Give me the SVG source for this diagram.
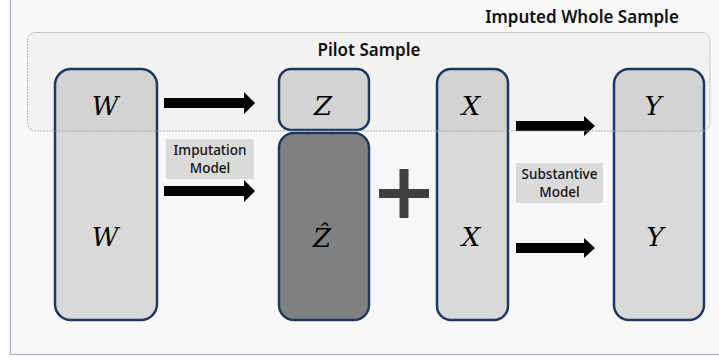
<svg xmlns="http://www.w3.org/2000/svg" width="719" height="360" viewBox="0 0 719 360">
<defs>
<style>
.node{fill:#d9d9d9;stroke:#1f3864;stroke-width:2.5}
.dark{fill:#808080}
.math{font-family:"DejaVu Serif","Liberation Serif",serif;font-style:italic;font-size:26px;fill:#000;text-anchor:middle}
.title{font-family:"Noto Sans","Liberation Sans",sans-serif;font-weight:600;font-size:17px;fill:#111;text-anchor:middle}
.lbl{font-family:"Noto Sans","Liberation Sans",sans-serif;font-weight:500;font-size:13.5px;fill:#111;text-anchor:middle}
.lblbox{fill:#dadada}
.arrow{fill:#000}
</style>
</defs>
<rect width="719" height="360" fill="#ffffff"/>
<rect x="10.5" y="-10" width="720" height="364.5" fill="#f8f8f8" stroke="#a9b0bd" stroke-width="1.2"/>
<text class="title" x="582" y="23">Imputed Whole Sample</text>

<g id="node-W">
<rect class="node" x="55" y="69" width="102" height="251" rx="16"/>
<text class="math" x="105" y="115">W</text>
<text class="math" x="105" y="246">W</text>
</g>
<g id="node-Z">
<rect class="node" x="279" y="69" width="90" height="61" rx="12"/>
<text class="math" x="323" y="115">Z</text>
</g>
<g id="node-Zhat">
<rect class="node dark" x="279" y="133" width="90" height="187" rx="15"/>
<text class="math" x="322" y="247">Ẑ</text>
</g>
<g id="node-X">
<rect class="node" x="437" y="69" width="71" height="251" rx="14"/>
<text class="math" x="471" y="115">X</text>
<text class="math" x="471" y="246">X</text>
</g>
<g id="node-Y">
<rect class="node" x="614" y="69" width="90" height="251" rx="15"/>
<text class="math" x="653" y="115">Y</text>
<text class="math" x="655" y="246">Y</text>
</g>

<g id="plus">
<rect x="379" y="189" width="50" height="9" fill="#404040"/>
<rect x="399.5" y="169" width="9" height="49" fill="#404040"/>
</g>

<g id="label-imputation">
<rect class="lblbox" x="166" y="139" width="88" height="40"/>
<text class="lbl" x="210" y="155">Imputation</text>
<text class="lbl" x="210" y="173">Model</text>
</g>
<g id="label-substantive">
<rect class="lblbox" x="516" y="163" width="87" height="40"/>
<text class="lbl" x="559.5" y="179">Substantive</text>
<text class="lbl" x="559.5" y="197">Model</text>
</g>

<g id="connectors">
<path class="arrow" d="M164,98 H244 V92 L255,103 L244,114 V108 H164 Z"/>
<path class="arrow" d="M164,186 H244 V180 L255,191 L244,202 V196 H164 Z"/>
<path class="arrow" d="M516,121 H584 V116 L595,126 L584,136 V131 H516 Z"/>
<path class="arrow" d="M516,243 H584 V238 L595,248 L584,258 V253 H516 Z"/>
</g>

<g id="pilot-sample">
<rect x="27.5" y="32.5" width="682.5" height="98.5" rx="8" fill="#000000" fill-opacity="0.025" stroke="#a3aabb" stroke-width="0.9" stroke-dasharray="2 1"/>
<text class="title" x="369" y="56">Pilot Sample</text>
</g>
</svg>
